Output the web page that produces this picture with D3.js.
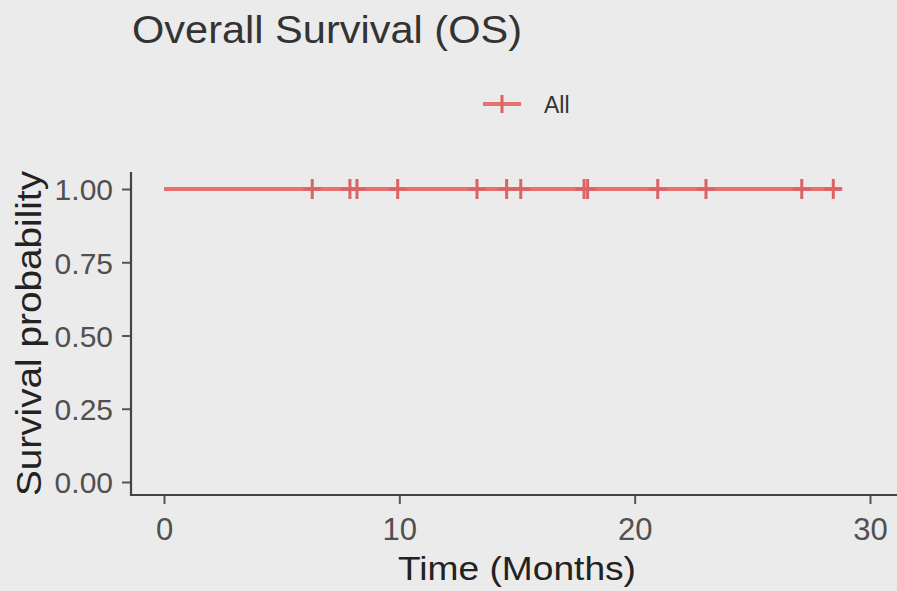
<!DOCTYPE html>
<html>
<head>
<meta charset="utf-8">
<script src="https://cdn.jsdelivr.net/npm/d3@7"></script>
<style>
  html, body { margin: 0; padding: 0; background: #ebebeb; }
  svg { display: block; }
  text { font-family: "Liberation Sans", Arial, sans-serif; }
</style>
</head>
<body>
<svg id="chart" width="897" height="591"></svg>
<script>
// ---- Data ----
const stepTimes = [0, 28.8];          // KM curve step times (months)
const stepSurvival = [1.0, 1.0];      // survival probability at each step
const censorTimes = [6.3, 7.9, 8.2, 9.93, 13.3, 14.56, 15.16, 17.85, 18.0, 20.98, 23.03, 27.1, 28.44];
const censorSurvival = [1, 1, 1, 1, 1, 1, 1, 1, 1, 1, 1, 1, 1];
const xTicks = [0, 10, 20, 30];
const yTicks = [0, 0.25, 0.5, 0.75, 1.0];
const yTickLabels = ["0.00", "0.25", "0.50", "0.75", "1.00"];
const seriesName = "All";
const titleText = "Overall Survival (OS)";
const xTitle = "Time (Months)";
const yTitle = "Survival probability";

// ---- Setup ----
const svg = d3.select("#chart");
const W = 897, H = 591;
const lineColor = "#e8716f";
const censorColor = "#dc6264";

svg.append("rect").attr("width", W).attr("height", H).attr("fill", "#ebebeb");

const x = d3.scaleLinear().domain([0, 30]).range([164, 870]);
const y = d3.scaleLinear().domain([0, 1]).range([482, 189]);

const panelLeft = 131, panelBottom = 495, panelTop = 172, panelRight = 897;

function fit(sel, len) {
  sel.attr("textLength", len).attr("lengthAdjust", "spacingAndGlyphs");
}

// ---- Axes ----
const xAxis = d3.axisBottom(x).tickValues(xTicks).tickSize(9).tickPadding(7).tickFormat(d3.format("d"));
const gx = svg.append("g").attr("transform", `translate(0,${panelBottom})`).call(xAxis);
gx.select(".domain").remove();
gx.selectAll(".tick line").attr("stroke", "#555").attr("stroke-width", 2);
gx.selectAll(".tick text").attr("fill", "#505050").attr("font-size", 31).attr("dy", "0.92em")
  .attr("font-family", "Liberation Sans, Arial, sans-serif");

const yAxis = d3.axisLeft(y).tickValues(yTicks).tickSize(9).tickPadding(9)
  .tickFormat((d, i) => yTickLabels[i]);
const gy = svg.append("g").attr("transform", `translate(${panelLeft},0)`).call(yAxis);
gy.select(".domain").remove();
gy.selectAll(".tick line").attr("stroke", "#555").attr("stroke-width", 2);
gy.selectAll(".tick text").attr("fill", "#505050").attr("font-size", 30).attr("dy", "0.36em")
  .attr("font-family", "Liberation Sans, Arial, sans-serif");

// axis lines
svg.append("line").attr("x1", panelLeft).attr("x2", panelLeft)
  .attr("y1", panelTop).attr("y2", panelBottom + 1)
  .attr("stroke", "#444").attr("stroke-width", 2.2);
svg.append("line").attr("x1", panelLeft - 1).attr("x2", panelRight)
  .attr("y1", panelBottom).attr("y2", panelBottom)
  .attr("stroke", "#444").attr("stroke-width", 2.2);

// ---- KM curve ----
const pts = stepTimes.map((t, i) => [t, stepSurvival[i]]);
const line = d3.line().x(d => x(d[0])).y(d => y(d[1])).curve(d3.curveStepAfter);
svg.append("path").datum(pts).attr("d", line)
  .attr("fill", "none").attr("stroke", lineColor).attr("stroke-width", 4);

// censor marks
const cg = svg.append("g");
censorTimes.forEach((t, i) => {
  const cx = x(t), cy = y(censorSurvival[i]);
  cg.append("line").attr("x1", cx).attr("x2", cx).attr("y1", cy - 10).attr("y2", cy + 10)
    .attr("stroke", censorColor).attr("stroke-width", 3);
  cg.append("line").attr("x1", cx - 9).attr("x2", cx + 9).attr("y1", cy).attr("y2", cy)
    .attr("stroke", censorColor).attr("stroke-width", 3);
});

// ---- Titles ----
const t1 = svg.append("text").attr("x", 132).attr("y", 43).attr("font-size", 38)
  .attr("fill", "#333").text(titleText);
fit(t1, 390);

const xt = svg.append("text").attr("x", 398).attr("y", 580).attr("font-size", 34)
  .attr("fill", "#222").text(xTitle);
fit(xt, 238);

const yt = svg.append("text").attr("transform", "translate(41,496) rotate(-90)")
  .attr("x", 0).attr("y", 0).attr("font-size", 35).attr("fill", "#222").text(yTitle);
fit(yt, 325);

// ---- Legend ----
const lg = svg.append("g");
const lx = 502, ly = 104;
lg.append("line").attr("x1", lx - 19).attr("x2", lx + 19).attr("y1", ly).attr("y2", ly)
  .attr("stroke", lineColor).attr("stroke-width", 4);
lg.append("line").attr("x1", lx).attr("x2", lx).attr("y1", ly - 9).attr("y2", ly + 9)
  .attr("stroke", censorColor).attr("stroke-width", 3);
lg.append("text").attr("x", 544).attr("y", 113).attr("font-size", 23).attr("fill", "#333")
  .text(seriesName);
</script>
</body>
</html>
